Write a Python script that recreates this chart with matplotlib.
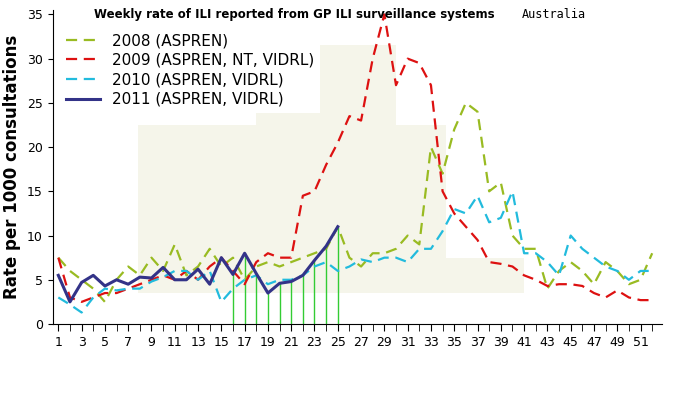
import numpy as np
import matplotlib
matplotlib.use('Agg')
import matplotlib.pyplot as plt
from matplotlib.patches import Rectangle

weeks = np.arange(1, 53)
ili_2008 = [7.5, 6, 5, 4, 2.5, 5, 6.5, 5.5, 7.5, 6, 9, 5.5, 6.5, 8.5, 6.5, 7.5, 5, 6.5, 7, 6.5,
            7, 7.5, 8, 8.5, 11, 7.5, 6.5, 8, 8, 8.5, 10, 9, 20, 17, 22, 25, 24, 15, 16, 10,
            8.5, 8.5, 4, 6, 7, 6, 4.5, 7, 6, 4.5, 5, 8]
ili_2009 = [7.5, 3, 2.5, 3, 3.5, 3.5, 4, 4.5, 5, 5.5, 5, 6, 5, 6.5, 7.5, 6, 4.5, 7, 8, 7.5,
            7.5, 14.5, 15, 18, 20.5, 23.5, 23, 30, 35, 27, 30, 29.5, 27, 15, 12.5, 11, 9.5, 7, 6.8, 6.5,
            5.5, 5, 4.3, 4.5, 4.5, 4.3, 3.5, 3, 3.8, 3, 2.7, 2.7]
ili_2010 = [3, 2.2, 1.3, 3, 4, 3.8, 4, 4, 4.8, 5.3, 6, 6, 5, 6, 2.5, 4, 5, 5.5, 4.5, 5,
            5, 5.5, 6.5, 7, 6, 6.5, 7.3, 7, 7.5, 7.5, 7, 8.5, 8.5, 10.5, 13, 12.5, 14.5, 11.5, 12, 15,
            8, 8, 7, 5.5, 10, 8.5, 7.5, 6.5, 6, 5, 6, 6]
ili_2011 = [5.5, 2.5, 4.7, 5.5, 4.3, 5, 4.5, 5.3, 5.2, 6.4, 5, 5, 6.2, 4.5, 7.5, 5.6, 8, 5.7, 3.5, 4.6,
            4.8, 5.5, 7.2, 8.8, 11]
drop_weeks = np.arange(16, 26)

fig = plt.figure(figsize=(7, 4), dpi=100)
ax = fig.add_axes([0.075, 0.19, 0.87, 0.785])

# faint beige background blobs
beige = '#f5f5ea'
for (x0, y0, w, h) in [(7.8, 3.5, 26.5, 19), (18, 22, 12, 9.5), (30, 3.5, 11, 4), (14, 3.5, 5, 5)]:
    ax.add_patch(Rectangle((x0, y0), w, h, color=beige, zorder=0, lw=0))

ax.vlines(drop_weeks, 0, ili_2011[15:25], color='#33cc33', lw=1, zorder=1)
ax.plot(weeks, ili_2008, color='#99bb22', ls=(0, (5, 3)), lw=1.6, label='2008 (ASPREN)')
ax.plot(weeks, ili_2009, color='#dd1111', ls=(0, (5, 3)), lw=1.6, label='2009 (ASPREN, NT, VIDRL)')
ax.plot(weeks, ili_2010, color='#22bbdd', ls=(0, (5, 3)), lw=1.6, label='2010 (ASPREN, VIDRL)')
ax.plot(weeks[:25], ili_2011, color='#333388', lw=2.2, label='2011 (ASPREN, VIDRL)')

ax.set_xlim(0.5, 52.8)
ax.set_ylim(0, 35.5)
ax.set_yticks(range(0, 36, 5))
ax.set_xticks(range(1, 53, 2))
ax.set_xticks(range(1, 53), minor=True)
ax.tick_params(labelsize=9, direction='out')
ax.tick_params(axis='x', which='both', length=5)
for s in ['top', 'right']:
    ax.spines[s].set_visible(False)
ax.set_ylabel('Rate per 1000 consultations', fontsize=12, fontweight='bold')

leg = ax.legend(loc='upper left', bbox_to_anchor=(0.0, 0.97), frameon=True, fontsize=11,
                handlelength=2.2, labelspacing=0.3, fancybox=False)
leg.get_frame().set_facecolor('white')
leg.get_frame().set_edgecolor('none')
leg.get_frame().set_alpha(1)
fig.text(0.135, 0.955, 'Weekly rate of ILI reported from GP ILI surveillance systems',
         fontsize=8.5, fontweight='bold')
fig.text(0.745, 0.955, 'Australia', fontsize=8.5, family='DejaVu Sans Mono')

fig.savefig('out.png')
